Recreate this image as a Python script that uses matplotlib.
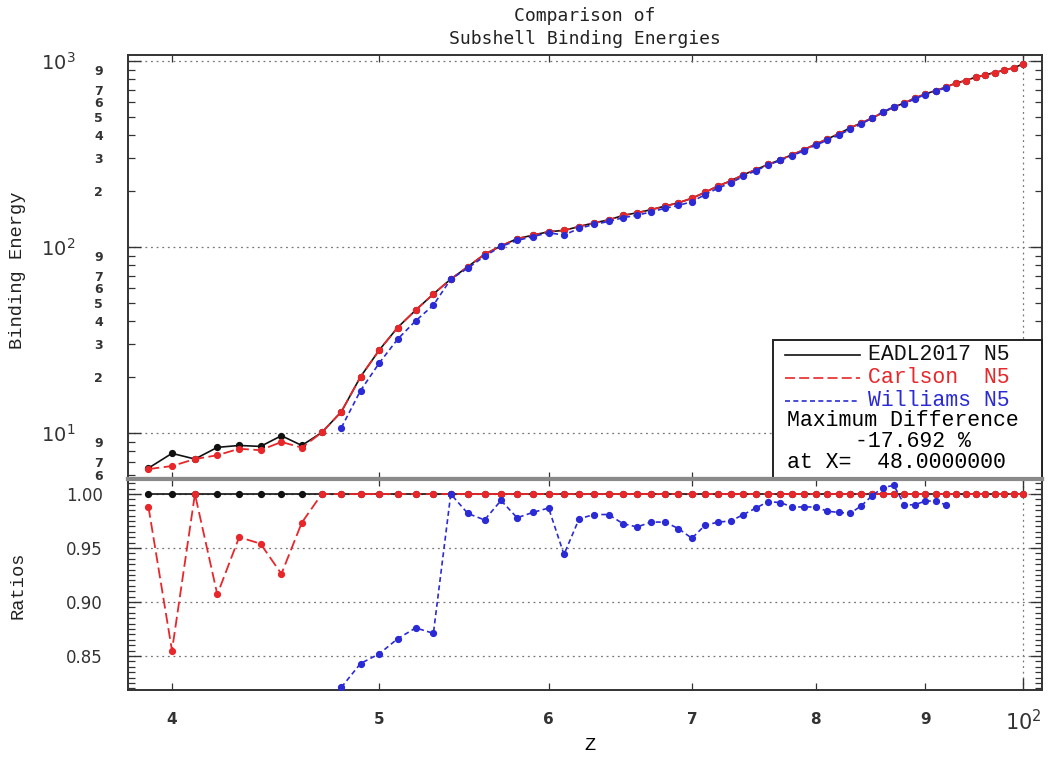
import numpy as np
import matplotlib
matplotlib.use("Agg")
import matplotlib.pyplot as plt
from matplotlib.ticker import FixedLocator, FuncFormatter, MultipleLocator, NullFormatter
from matplotlib.patches import Rectangle
from matplotlib.lines import Line2D

# ---------------- data ----------------
z_all = list(range(39, 101))
eadl_energy = [6.5, 7.8, 7.27, 8.4, 8.6, 8.5, 9.7, 8.6, 10.1, 13.05,
               20.1, 28.0, 37.0, 45.9, 56.0, 67.3, 78.5, 91.5, 101.5, 111,
               116, 121, 123, 129, 135, 140, 148, 153, 159, 166,
               173, 183, 197, 213, 227, 245, 261, 278, 295, 314,
               334, 358, 381, 407, 437, 464, 494, 529, 565, 595,
               632, 665, 693, 723, 760, 785, 818, 842, 867, 893,
               920, 963]
carlson_ratio = [0.988, 0.855, 1.0, 0.907, 0.960, 0.954, 0.926, 0.9735] + [1.0] * 54
z_williams = list(range(48, 93))
williams_ratio = [0.821, 0.843, 0.852, 0.866, 0.876, 0.871, 1.000, 0.982, 0.976, 0.994,
                  0.978, 0.983, 0.987, 0.944, 0.977, 0.981, 0.981, 0.9725, 0.9695, 0.974,
                  0.974, 0.968, 0.959, 0.971, 0.974, 0.975, 0.981, 0.987, 0.993, 0.992,
                  0.988, 0.988, 0.988, 0.984, 0.983, 0.982, 0.989, 0.9985, 1.006, 1.008,
                  0.990, 0.990, 0.9935, 0.9935, 0.990]
x_tick_vals = [40, 50, 60, 70, 80, 90]
x_tick_labels = ["4", "5", "6", "7", "8", "9"]
ratio_ticks = [0.85, 0.90, 0.95, 1.00]
legend_names = ["EADL2017 N5", "Carlson  N5", "Williams N5"]
max_diff_text = ["Maximum Difference", "-17.692 %", "at X=  48.0000000"]

# derived series
eadl = np.array(eadl_energy)
carlson = eadl * np.array(carlson_ratio)
w_idx = [z_all.index(z) for z in z_williams]
williams = eadl[w_idx] * np.array(williams_ratio)
ones = np.ones(len(z_all))

# ---------------- figure ----------------
W, H = 1052, 759
fig = plt.figure(figsize=(W / 100, H / 100), dpi=100)
L, R = 128, 1042
T1, B1, B2 = 55, 479, 690
ax1 = fig.add_axes([L / W, 1 - B1 / H, (R - L) / W, (B1 - T1) / H])
ax2 = fig.add_axes([L / W, 1 - B2 / H, (R - L) / W, (B2 - B1) / H])

blk, red, blu = "#111111", "#e8272a", "#2b2bd6"
ms = 4.2
mono = "Liberation Mono"

# top panel
ax1.plot(z_all, eadl, color=blk, lw=1.2, marker="o", ms=ms, zorder=3)
ax1.plot(z_all, carlson, color=red, lw=1.3, ls=(0, (6, 2.5)), marker="o", ms=ms, zorder=4)
ax1.plot(z_williams, williams, color=blu, lw=1.2, ls=(0, (3, 2)), marker="o", ms=ms, zorder=5)

# bottom panel
ax2.plot(z_all, ones, color=blk, lw=1.2, marker="o", ms=ms, zorder=3)
ax2.plot(z_all, carlson_ratio, color=red, lw=1.3, ls=(0, (6, 2.5)), marker="o", ms=ms, zorder=4)
ax2.plot(z_williams, williams_ratio, color=blu, lw=1.2, ls=(0, (3, 2)), marker="o", ms=ms, zorder=5)

for ax in (ax1, ax2):
    ax.set_xscale("log")
    ax.set_xlim(38.15, 102.05)
    ax.xaxis.set_major_locator(FixedLocator([100]))
    ax.xaxis.set_minor_locator(FixedLocator(x_tick_vals))
    ax.tick_params(which="both", direction="in", top=True, right=True, colors="#333333")
    ax.tick_params(which="major", length=9, width=1.0)
    ax.tick_params(which="minor", length=5, width=0.9)
    for s in ax.spines.values():
        s.set_color("#333333")
        s.set_linewidth(1.4)
    ax.grid(True, which="major", ls=(0, (1.5, 3)), color="#777777", lw=0.9)

ax1.xaxis.set_major_formatter(NullFormatter())
ax1.xaxis.set_minor_formatter(NullFormatter())
ax2.xaxis.set_major_formatter(FuncFormatter(lambda v, p: r"$10^{2}$"))
ax2.xaxis.set_minor_formatter(FuncFormatter(lambda v, p: x_tick_labels[x_tick_vals.index(int(round(v)))] if int(round(v)) in x_tick_vals else ""))
ax2.tick_params(axis="x", which="minor", pad=16)
ax2.tick_params(axis="x", which="major", pad=14, labelsize=15)
for lab in ax2.get_xticklabels(which="minor"):
    lab.set_fontfamily("DejaVu Sans")
    lab.set_fontsize(11)
    lab.set_fontweight("bold")

# top y axis
ax1.set_yscale("log")
ax1.set_ylim(5.68, 1077)
ax1.yaxis.set_major_locator(FixedLocator([10, 100, 1000]))
minor_pos = [m * 10 ** d for d in (0, 1, 2) for m in range(2, 10)]
ax1.yaxis.set_minor_locator(FixedLocator(minor_pos))
ax1.yaxis.set_major_formatter(FuncFormatter(lambda v, p: r"$10^{%d}$" % int(round(np.log10(v)))))
def minor_fmt(v, p):
    d = int(round(v / 10 ** np.floor(np.log10(v) + 1e-9)))
    return str(d) if d in (2, 3, 4, 5, 6, 7, 9) else ""
ax1.yaxis.set_minor_formatter(FuncFormatter(minor_fmt))
ax1.tick_params(axis="y", which="major", pad=38, labelsize=14)
ax1.tick_params(axis="y", which="minor", pad=18, labelsize=9)
for lab in ax1.get_yticklabels(which="minor"):
    lab.set_fontweight("bold")
ax1.spines["bottom"].set_color("#8a8a8a")
ax1.spines["bottom"].set_linewidth(3)

# bottom y axis
ax2.set_ylim(0.8185, 1.0139)
ax2.yaxis.set_major_locator(FixedLocator(ratio_ticks))
ax2.yaxis.set_minor_locator(MultipleLocator(0.005))
ax2.yaxis.set_major_formatter(FuncFormatter(lambda v, p: "%.2f" % v))
ax2.tick_params(axis="y", which="major", pad=18, labelsize=12)
for lab in ax2.get_yticklabels():
    lab.set_fontfamily("DejaVu Sans")
ax2.spines["top"].set_color("#8a8a8a")
ax2.spines["top"].set_linewidth(3)

# labels
fig.text(18 / W, 1 - 270 / H, "Binding Energy", rotation=90, ha="center", va="center",
         family=mono, fontsize=13.5, color="#222222")
fig.text(18 / W, 1 - 585 / H, "Ratios", rotation=90, ha="center", va="center",
         family=mono, fontsize=13.5, color="#222222")
fig.text(590 / W, 1 - 745 / H, "Z", ha="center", va="center", family=mono, fontsize=13.5)
fig.text(585 / W, 1 - 16 / H, "Comparison of", ha="center", va="center",
         family="DejaVu Sans Mono", fontsize=13, color="#222222")
fig.text(585 / W, 1 - 39 / H, "Subshell Binding Energies", ha="center", va="center",
         family="DejaVu Sans Mono", fontsize=13, color="#222222")

# legend box
def fx(px):
    return (px - L) / (R - L)
def fy(py):
    return (B1 - py) / (B1 - T1)
ax1.add_patch(Rectangle((fx(773), 0), 1 - fx(773), fy(340), transform=ax1.transAxes,
                        facecolor="white", edgecolor="#222222", lw=1.4, zorder=10, clip_on=False))
styles = [(blk, "-"), (red, (0, (6, 2.5))), (blu, (0, (3, 2)))]
rows = [355, 378, 401]
for (c, ls), py, name in zip(styles, rows, legend_names):
    ax1.add_line(Line2D([fx(785), fx(860)], [fy(py), fy(py)], color=c, ls=ls, lw=1.2,
                        transform=ax1.transAxes, zorder=11))
    ax1.text(fx(868), fy(py), name, transform=ax1.transAxes, color=c, family=mono,
             fontsize=15.5, va="center", ha="left", zorder=12)
ax1.text(fx(787), fy(421), max_diff_text[0], transform=ax1.transAxes, family=mono,
         fontsize=15.5, va="center", ha="left", zorder=12)
ax1.text(fx(855), fy(442), max_diff_text[1], transform=ax1.transAxes, family=mono,
         fontsize=15.5, va="center", ha="left", zorder=12)
ax1.text(fx(787), fy(463), max_diff_text[2], transform=ax1.transAxes, family=mono,
         fontsize=15.5, va="center", ha="left", zorder=12)

fig.savefig("out.png", dpi=100, facecolor="white")
